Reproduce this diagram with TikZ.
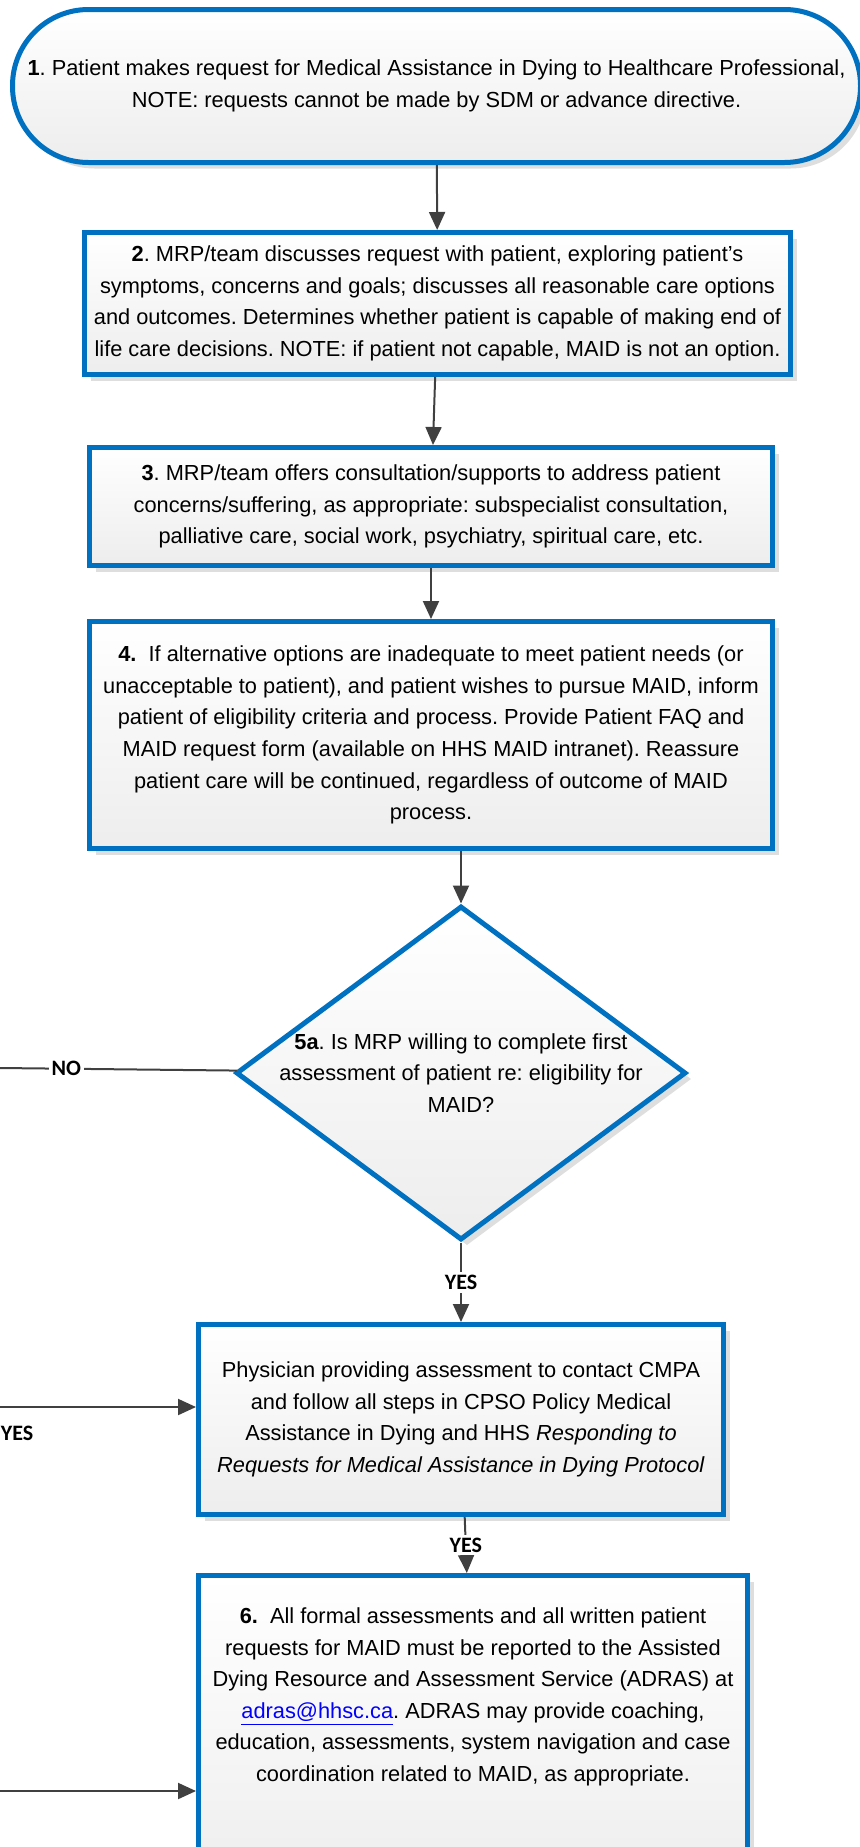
\documentclass[tikz,border=0pt]{standalone}
\usepackage{fontspec}
\setmainfont{Liberation Sans}
\newfontfamily\answerfont{Carlito}
\usetikzlibrary{shapes.geometric,shadows,arrows.meta}
\definecolor{flowblue}{RGB}{0,112,192}
\definecolor{linegray}{RGB}{64,64,64}
\frenchspacing

\begin{document}
\begin{tikzpicture}[x=0.5pt,y=-0.5pt]

\tikzstyle{body}=[align=center, font=\fontsize{10.9}{15.8}\selectfont]
\tikzstyle{process}=[shape=rectangle, body,
    draw=flowblue, line width=2.5pt,
    top color=white, bottom color=black!7,
    drop shadow={shadow xshift=3pt, shadow yshift=-3pt, fill=black!13, opacity=1}]
\tikzstyle{terminal}=[process, rounded corners=38pt]
\tikzstyle{decision}=[process, shape=diamond]
\tikzstyle{flowline}=[->, >={Triangle[length=9pt,width=8pt]}, line width=1pt, draw=linegray]
\tikzstyle{answer}=[fill=white, inner sep=1.5pt, font=\answerfont\bfseries\fontsize{11}{13}\selectfont]

\useasboundingbox (0,0) rectangle (859,1847);

  \node[terminal, minimum width=424pt, minimum height=76.5pt] (patientRequest) at (436.5,86)
    {\textbf{1}. Patient makes request for Medical Assistance in Dying to Healthcare Professional,\\
     NOTE: requests cannot be made by SDM or advance directive.};

  \node[process, minimum width=353pt, minimum height=71pt] (discussRequest) at (437.5,303.5)
    {\textbf{2}. MRP/team discusses request with patient, exploring patient’s\\
     symptoms, concerns and goals; discusses all reasonable care options\\
     and outcomes. Determines whether patient is capable of making end of\\
     life care decisions. NOTE: if patient not capable, MAID is not an option.};

  \node[process, minimum width=341.5pt, minimum height=59pt] (offerSupports) at (431,506.5)
    {\textbf{3}. MRP/team offers consultation/supports to address patient\\
     concerns/suffering, as appropriate: subspecialist consultation,\\
     palliative care, social work, psychiatry, spiritual care, etc.};

  \node[process, minimum width=341.5pt, minimum height=113.5pt] (informPatient) at (431,735)
    {\textbf{4.}\ \ If alternative options are inadequate to meet patient needs (or\\
     unacceptable to patient), and patient wishes to pursue MAID, inform\\
     patient of eligibility criteria and process. Provide Patient FAQ and\\
     MAID request form (available on HHS MAID intranet). Reassure\\
     patient care will be continued, regardless of outcome of MAID\\
     process.};

  \draw[flowline] (patientRequest) -- (discussRequest);
  \draw[flowline] (discussRequest) -- (offerSupports);
  \draw[flowline] (offerSupports) -- (informPatient);

  % decision
  \node[decision, minimum width=225pt, minimum height=167pt,
    label={[body]center:{\textbf{5a}. Is MRP willing to complete first\\
     assessment of patient re: eligibility for\\ MAID?}}] (mrpWilling) at (461,1073) {};

  \draw[flowline] (mrpWilling.north |- informPatient.south) -- (mrpWilling.north);

  \coordinate (noEnd) at (0,1068);
  \draw[flowline,-] (mrpWilling) -- node[answer, pos=0.72] {NO} (noEnd);

  \node[process, minimum width=262.5pt, minimum height=95pt] (contactCMPA) at (461,1419.5)
    {Physician providing assessment to contact CMPA\\
     and follow all steps in CPSO Policy Medical\\
     Assistance in Dying and HHS \textit{Responding to}\\
     \textit{Requests for Medical Assistance in Dying Protocol}};

  \draw[flowline] (mrpWilling) -- node[answer] {YES} (contactCMPA);

  \coordinate (yesIn) at (0,1407);
  \draw[flowline] (yesIn) -- node[answer, pos=0.087, below=7.5pt] {YES} (yesIn -| contactCMPA.west);

  % reporting
  \node[process, anchor=north, minimum width=274.5pt, minimum height=161pt] (reportADRAS) at (473,1573)
    {\textbf{6.}\ \ All formal assessments and all written patient\\
     requests for MAID must be reported to the Assisted\\
     Dying Resource and Assessment Service (ADRAS) at\\
     {\color{blue}\underline{adras@hhsc.ca}}. ADRAS may provide coaching,\\
     education, assessments, system navigation and case\\
     coordination related to MAID, as appropriate.\rule[-42pt]{0pt}{0pt}};

  \draw[flowline] (contactCMPA) -- node[answer] {YES} (reportADRAS);

  \coordinate (sixIn) at (0,1791);
  \draw[flowline] (sixIn) -- (sixIn -| reportADRAS.west);

\end{tikzpicture}
\end{document}
